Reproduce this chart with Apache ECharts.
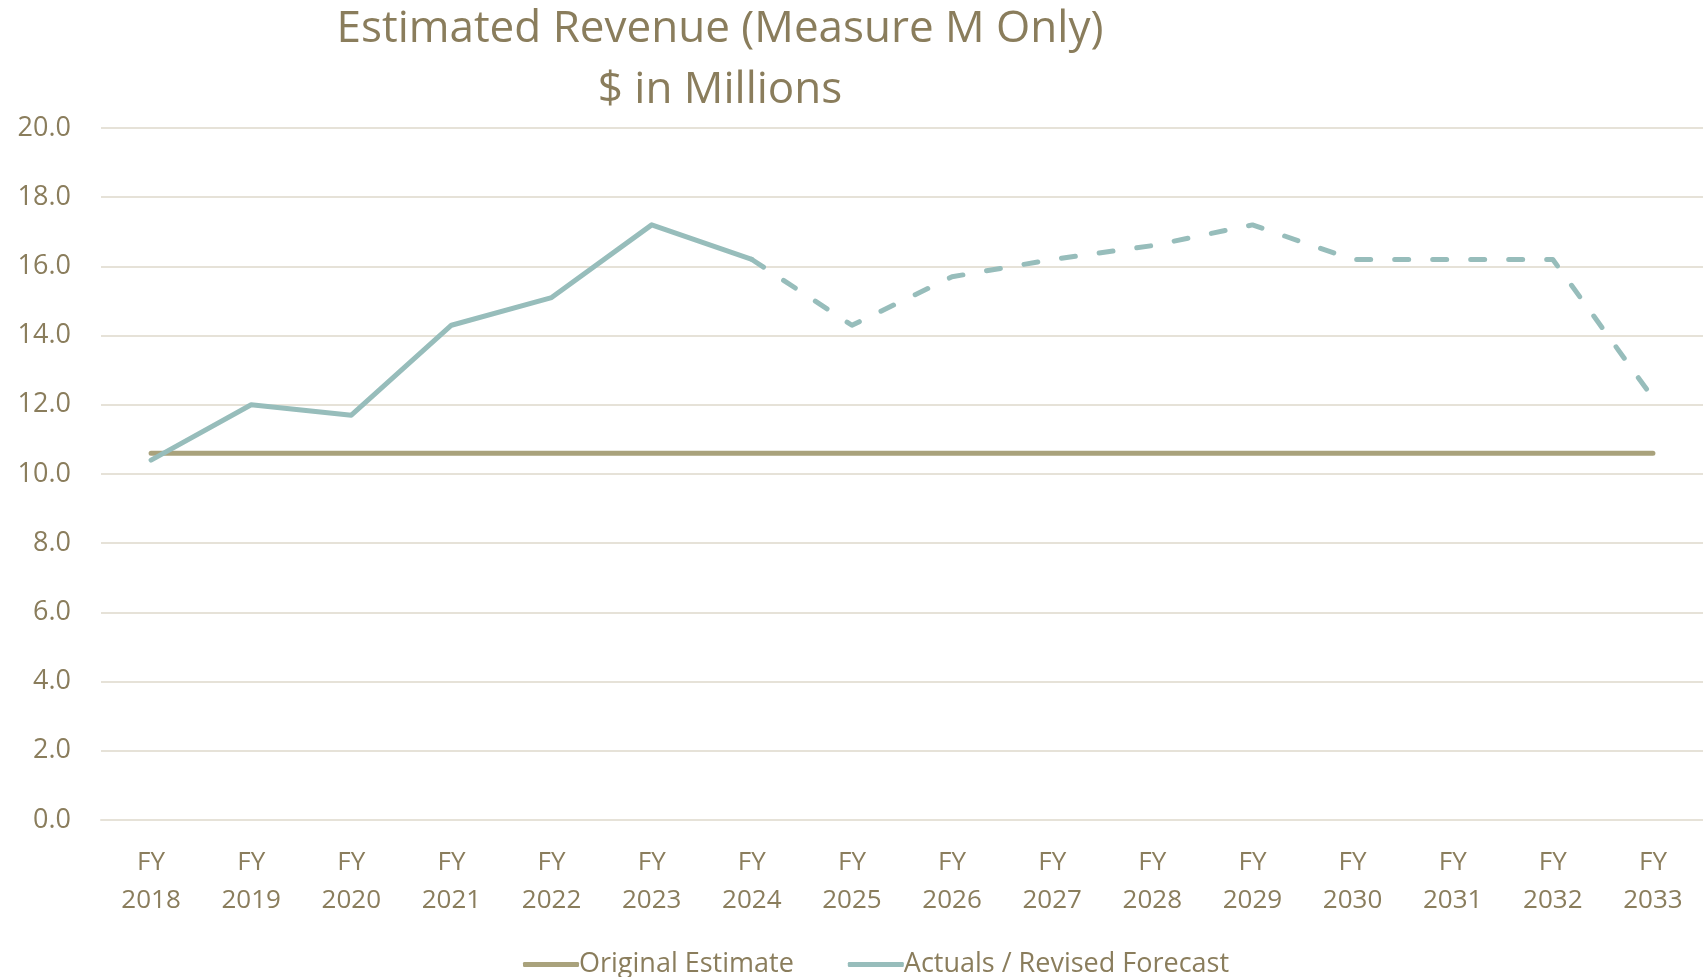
<!DOCTYPE html>
<html>
<head>
<meta charset="utf-8">
<script src="https://cdn.jsdelivr.net/npm/echarts@6/dist/echarts.min.js"></script>
<style>
  html, body { margin: 0; padding: 0; background: #fff; }
  #chart { width: 1703px; height: 977px; }
</style>
</head>
<body>
<div id="chart"></div>
<script>
// data
var years = ['2018', '2019', '2020', '2021', '2022', '2023', '2024', '2025',
             '2026', '2027', '2028', '2029', '2030', '2031', '2032', '2033'];
var originalEstimate = [10.6, 10.6, 10.6, 10.6, 10.6, 10.6, 10.6, 10.6,
                        10.6, 10.6, 10.6, 10.6, 10.6, 10.6, 10.6, 10.6];
// actuals up to FY2024 (solid), revised forecast from FY2024 on (dashed)
var actuals = [10.4, 12.0, 11.7, 14.3, 15.1, 17.2, 16.2, null,
               null, null, null, null, null, null, null, null];
var forecast = [null, null, null, null, null, null, 16.2, 14.3,
                15.7, 16.2, 16.6, 17.2, 16.2, 16.2, 16.2, 12.2];

var textColor = '#8A7D5C';
var gridColor = '#E6E2D8';
var fontFam = '"Open Sans", sans-serif';

var chart = echarts.init(document.getElementById('chart'));

var option = {
    backgroundColor: '#fff',
    animation: false,
    title: {
        text: 'Estimated Revenue (Measure M Only)\n$ in Millions',
        left: 715,
        textAlign: 'center',
        top: -6,
        textStyle: {
            color: textColor,
            fontFamily: fontFam,
            fontWeight: 'normal',
            fontSize: 44,
            lineHeight: 61
        }
    },
    legend: {
        data: [
            { name: 'Original Estimate', icon: 'roundRect' },
            { name: 'Actuals / Revised Forecast', icon: 'roundRect' }
        ],
        left: 518,
        top: 946,
        itemWidth: 56,
        itemHeight: 5,
        itemGap: 54,
        textStyle: {
            color: textColor,
            fontFamily: fontFam,
            fontSize: 27,
            padding: [0, 0, 0, -5]
        }
    },
    grid: {
        left: 101,
        right: 0,
        top: 128,
        bottom: 157
    },
    xAxis: {
        type: 'category',
        data: years.map(function (y) { return 'FY\n' + y; }),
        axisLine: { lineStyle: { color: gridColor, width: 2 } },
        axisTick: { show: false },
        axisLabel: {
            color: textColor,
            fontFamily: fontFam,
            fontSize: 26,
            lineHeight: 38,
            margin: 24
        }
    },
    yAxis: {
        type: 'value',
        min: 0,
        max: 20,
        interval: 2,
        axisLine: { show: false },
        axisTick: { show: false },
        splitLine: { lineStyle: { color: gridColor, width: 2 } },
        axisLabel: {
            color: textColor,
            fontFamily: fontFam,
            fontSize: 27,
            margin: 30,
            formatter: function (v) { return v.toFixed(1); }
        }
    },
    series: [
        {
            name: 'Original Estimate',
            type: 'line',
            data: originalEstimate,
            symbol: 'none',
            lineStyle: { color: '#A9A27C', width: 5, cap: 'round' },
            itemStyle: { color: '#A9A27C' }
        },
        {
            name: 'Actuals / Revised Forecast',
            type: 'line',
            data: actuals,
            symbol: 'none',
            lineStyle: { color: '#97BDBB', width: 5, cap: 'round', join: 'round' },
            itemStyle: { color: '#97BDBB' }
        },
        {
            name: 'Actuals / Revised Forecast',
            type: 'line',
            data: forecast,
            symbol: 'none',
            lineStyle: { color: '#97BDBB', width: 5, type: [14, 24], cap: 'round', join: 'round' },
            itemStyle: { color: '#97BDBB' }
        }
    ]
};

chart.setOption(option);
</script>
</body>
</html>
